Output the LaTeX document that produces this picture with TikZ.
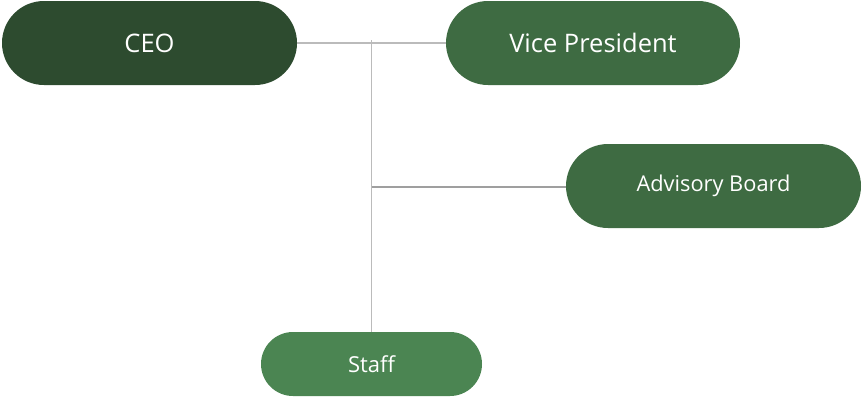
\documentclass[tikz,border=0pt]{standalone}
\usepackage{fontspec}
\setmainfont{Open Sans}
\definecolor{ceo}{HTML}{2D4B2F}
\definecolor{mid}{HTML}{3E6B42}
\definecolor{staff}{HTML}{4B8552}
\definecolor{ln}{HTML}{BBBBBB}
\begin{document}
\begin{tikzpicture}[x=1pt,y=1pt,
  pill/.style={rounded corners=#1, inner sep=0pt, text=white},
  conn/.style={draw=ln, line width=1.2pt}]
\useasboundingbox (0,0) rectangle (862,-397);
\node[pill=42pt, fill=ceo, minimum width=295pt, minimum height=84pt, font=\fontsize{25.5}{28}\selectfont] (ceo) at (149.5,-43) {CEO};
\node[pill=42pt, fill=mid, minimum width=294pt, minimum height=84pt, font=\fontsize{25.5}{28}\selectfont] (vp) at (593,-43) {Vice President};
\node[pill=42pt, fill=mid, minimum width=295pt, minimum height=84pt, font=\fontsize{21.8}{25}\selectfont] (adv) at (713.5,-186) {Advisory Board};
\node[pill=32pt, fill=staff, minimum width=221pt, minimum height=64pt, font=\fontsize{22}{25}\selectfont] (staff) at (371.5,-364) {Staff};
\coordinate (top) at (371.5,-40);
\coordinate (mid) at (371.5,-187);
\draw[conn] (ceo.east) -- (vp.west);
\draw[conn] (top) -- (staff.north);
\draw[conn, draw=ln!85!black] (mid) -- (adv.west |- mid);
\end{tikzpicture}
\end{document}
